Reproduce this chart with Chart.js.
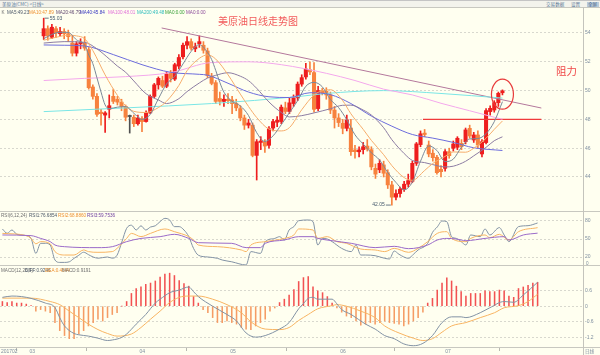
<!DOCTYPE html>
<html><head><meta charset="utf-8">
<script src="https://cdn.jsdelivr.net/npm/chart.js@4.4.1/dist/chart.umd.min.js"></script>
<style>
html,body{margin:0;padding:0}
body{width:600px;height:355px;background:#fffff0;position:relative;overflow:hidden;font-family:"Liberation Sans",Arial,sans-serif}
canvas{position:absolute;left:0}
.t{position:absolute;white-space:nowrap;font-size:4.6px;line-height:5px}
.hl{position:absolute;left:0;width:600px;height:1px;background:#c8c8c0}
.cjk{font-family:"Noto Sans CJK SC",sans-serif}
</style></head><body>
<div style="position:absolute;left:0;top:0;width:600px;height:8px;background:#f3f3ec;border-top:1.5px solid #c4c4c4;box-sizing:border-box"></div>
<div class="t cjk" style="left:2px;top:2px;color:#5a7898">美原油(CMC) &lt;日线&gt;</div>
<div class="t cjk" style="left:546px;top:2px;color:#5a7898">交易数据</div>
<div class="t cjk" style="left:571px;top:2px;color:#5a7898">设置</div>
<div style="position:absolute;left:587px;top:1.5px;width:12px;height:5px;background:#b9cada"></div>
<div class="t cjk" style="left:588px;top:2px;color:#4a6888">全屏</div>

<canvas id="cp" width="600" height="204" style="top:8px"></canvas>
<canvas id="cr" width="600" height="54" style="top:212px"></canvas>
<canvas id="cm" width="600" height="89" style="top:266px"></canvas>

<div class="hl" style="top:7px"></div>
<div class="hl" style="top:211px"></div>
<div class="hl" style="top:265px"></div>
<div class="hl" style="top:347px"></div>
<div style="position:absolute;left:583px;top:7px;width:1px;height:348px;background:#c4c4bc"></div>

<div class="t" style="left:1.5px;top:9.5px;color:#707070">K</div>
<div class="t" style="left:7px;top:9.5px;color:#4c5868">MA5:49.23</div>
<div class="t" style="left:29px;top:9.5px;color:#ee9030">MA10:47.89</div>
<div class="t" style="left:56px;top:9.5px;color:#604870">MA20:46.79</div>
<div class="t" style="left:80px;top:9.5px;color:#3434c0">MA40:45.84</div>
<div class="t" style="left:108px;top:9.5px;color:#e070d8">MA100:48.01</div>
<div class="t" style="left:137px;top:9.5px;color:#2cbcbc">MA200:49.48</div>
<div class="t" style="left:165px;top:9.5px;color:#38a038">MA0:0.00</div>
<div class="t" style="left:186px;top:9.5px;color:#8a4a9a">MA0:0.00</div>

<div class="t cjk" style="left:218px;top:15px;font-size:10px;line-height:12px;color:#f25c5c">美原油日线走势图</div>
<div class="t cjk" style="left:556px;top:65px;font-size:10.5px;line-height:12px;color:#f04848">阻力</div>

<div class="t" style="left:1px;top:213px;color:#707070">RSI(6,12,24)</div>
<div class="t" style="left:29px;top:213px;color:#4c5868">RSI1:76.6854</div>
<div class="t" style="left:58px;top:213px;color:#ee9030">RSI2:68.8860</div>
<div class="t" style="left:87px;top:213px;color:#7040a0">RSI3:59.7536</div>

<div class="t" style="left:1px;top:267.5px;color:#707070">MACD(12,26,9)</div>
<div class="t" style="left:25px;top:267.5px;color:#4c5868">DIFF:0.9246</div>
<div class="t" style="left:45px;top:267.5px;color:#ee9030">DEA:0.4644</div>
<div class="t" style="left:62px;top:267.5px;color:#707070">MACD:0.9191</div>

<div class="t" style="left:586px;top:261px;color:#7f8fa0">0</div>
<div class="t cjk" style="left:585px;top:349px;color:#7f8fa0">日线</div>

<script>
// ---- categories / tick labels ----
const tickIdx = [0, 6, 29, 48, 71, 93];
const tickLabels = ['201702', '03', '04', '05', '06', '07'];
const priceTicks = [44, 46, 48, 50, 52, 54];
const rsiTicks = [20, 50, 80];
const macdTicks = [-1.2, -0.6, 0, 0.6];

// ---- daily candles (index 0 = first bar) ----
const open = [
53.80,54.30,53.70,54.30,53.95,54.10,53.95,53.30,52.60,53.25,
53.30,52.85,50.25,49.60,48.50,48.30,48.70,49.60,49.40,49.20,
48.90,48.20,48.15,47.70,48.05,47.85,48.45,49.60,50.40,50.70,
50.30,51.20,50.80,51.70,52.35,53.15,53.40,52.90,53.25,53.15,
52.75,51.00,50.55,49.45,49.25,49.40,49.35,49.10,48.75,48.10,
47.60,47.60,45.50,46.40,46.45,46.20,47.40,47.80,47.85,48.80,
48.55,49.10,49.50,50.45,50.95,51.45,51.25,48.75,50.00,49.95,
49.70,48.65,48.10,47.73,47.38,47.40,45.88,45.75,45.90,46.15,
45.90,44.60,44.50,44.84,44.30,43.45,42.60,42.85,43.15,43.50,
43.70,44.95,46.25,47.05,46.22,45.65,45.37,44.53,44.60,45.76,
45.99,46.06,46.34,46.45,47.38,46.57,46.92,45.60,46.39,48.54,
48.65,49.16,49.85];
const high = [
55.03,54.50,54.60,54.45,54.40,54.30,54.20,53.80,53.40,53.60,
53.75,53.00,50.40,49.80,48.70,48.55,49.70,50.10,49.60,49.40,
49.00,48.30,48.30,48.30,48.20,48.60,49.70,50.50,50.95,51.00,
51.30,51.40,51.90,52.50,53.30,53.75,53.60,53.30,53.80,53.40,
52.95,51.20,50.70,49.90,49.70,49.80,49.60,49.40,48.95,48.30,
48.00,47.75,46.60,46.80,46.60,47.50,48.00,48.20,49.00,49.20,
49.50,49.70,50.60,51.10,51.90,52.00,51.95,50.30,50.15,50.20,
49.90,48.90,48.40,48.00,48.30,48.00,46.20,46.10,46.40,46.60,
46.10,44.90,45.20,45.10,44.50,43.70,43.10,43.30,43.70,44.20,
45.10,46.40,47.20,47.30,46.50,45.90,45.50,44.80,45.90,46.00,
46.50,46.80,46.60,47.40,47.60,47.10,47.20,46.60,48.75,48.95,
49.30,49.90,50.05];
const low = [
53.55,53.50,53.60,53.70,53.80,53.60,53.40,52.40,52.40,52.90,
52.80,50.10,49.40,48.20,47.60,47.10,48.10,49.10,49.00,48.60,
47.90,47.05,47.50,47.60,47.15,47.80,48.40,49.50,50.10,50.20,
50.20,50.60,50.70,51.50,52.20,52.90,52.80,52.70,53.00,52.60,
50.90,50.40,49.10,49.00,48.90,49.10,48.40,48.60,47.90,47.30,
47.40,45.40,43.79,45.90,45.70,46.00,47.20,47.50,47.70,48.40,
48.40,48.90,49.30,50.30,50.80,51.10,48.50,48.60,49.70,49.40,
48.40,47.40,47.50,47.00,47.20,45.50,45.30,45.40,45.60,45.80,
44.50,43.90,44.30,44.00,43.20,42.05,42.40,42.60,43.00,43.30,
43.60,44.80,46.10,46.80,45.40,45.10,44.20,44.00,44.40,45.30,
45.80,45.90,45.90,46.30,46.70,46.40,46.00,45.40,46.30,48.30,
48.50,48.90,49.70];
const close = [
54.30,53.80,54.40,54.00,54.10,53.95,53.75,52.60,53.25,53.35,
52.95,50.20,49.60,48.35,48.40,48.45,48.95,49.25,49.20,48.90,
48.15,48.20,47.70,48.10,47.85,48.45,49.60,50.40,50.85,50.30,
51.15,50.85,51.80,52.30,53.15,53.40,52.95,53.05,53.40,52.80,
51.05,50.50,49.25,49.25,49.40,49.30,49.10,48.80,48.10,47.60,
47.75,45.50,46.45,46.50,46.15,47.35,47.85,47.95,48.85,48.55,
49.15,49.50,50.45,50.90,51.50,51.30,48.70,50.00,49.85,49.70,
48.65,48.10,47.78,47.38,47.96,45.76,45.76,45.88,46.10,45.95,
44.70,44.20,44.95,44.26,43.45,42.60,42.85,43.15,43.50,43.75,
44.95,46.30,47.00,46.95,45.60,45.34,44.30,44.37,45.76,45.48,
46.29,46.69,46.11,47.27,46.85,46.92,46.22,46.45,48.61,48.77,
49.16,49.81,49.98];

// ---- moving averages: [bar index, value] ----
const ma5 = [[0,53.6],[2,53.9],[4,54.05],[6,54.04],[8,53.53],[10,53.18],[11,52.47],[12,51.87],[13,50.89],[14,49.9],[15,49.0],[16,48.75],[18,48.85],[20,48.89],[22,48.43],[24,48.0],[26,48.34],[28,49.43],[30,50.46],[32,50.99],[34,51.85],[36,52.72],[38,53.19],[40,52.65],[41,52.16],[42,51.4],[43,50.57],[44,49.89],[46,49.26],[48,48.94],[50,48.27],[52,47.08],[54,46.47],[56,46.86],[58,47.63],[60,48.47],[62,49.3],[64,50.3],[66,50.57],[68,50.27],[70,49.38],[72,48.82],[74,47.97],[76,46.93],[78,46.29],[80,45.68],[82,45.18],[84,44.31],[86,43.62],[88,43.11],[90,43.64],[92,45.1],[94,46.16],[96,45.84],[98,45.07],[100,45.24],[102,46.07],[104,46.64],[106,46.67],[108,47.01],[110,47.84],[112,49.23]];
const ma10 = [[0,53.5],[3,53.7],[6,53.85],[8,53.8],[10,53.6],[12,52.78],[15,51.09],[18,49.67],[20,48.95],[22,48.56],[25,48.48],[28,48.82],[30,49.26],[33,50.36],[35,51.38],[38,52.24],[40,52.48],[42,52.19],[45,51.1],[48,49.76],[50,48.9],[52,48.13],[55,47.33],[58,47.2],[60,47.43],[63,48.67],[66,49.69],[68,49.99],[70,50.06],[73,49.3],[75,48.39],[78,47.31],[80,46.54],[83,45.55],[85,44.79],[88,43.96],[90,43.77],[93,44.45],[95,44.94],[98,45.43],[100,45.74],[103,45.72],[105,46.0],[108,46.69],[110,47.31],[112,47.89]];
const ma20 = [[0,53.3],[5,53.4],[10,53.35],[13,52.9],[16,52.2],[18,51.7],[20,51.28],[22,50.67],[25,49.78],[28,49.35],[30,49.1],[33,49.44],[35,49.93],[38,50.53],[40,50.87],[42,51.06],[45,51.24],[48,51.0],[50,50.69],[52,50.16],[55,49.21],[58,48.48],[60,48.17],[63,48.26],[66,48.45],[68,48.59],[70,48.74],[73,48.98],[75,48.99],[78,48.65],[80,48.3],[83,47.42],[85,46.59],[88,45.63],[90,45.15],[93,45.0],[95,44.86],[98,44.7],[100,44.75],[103,45.09],[105,45.47],[108,46.06],[110,46.52],[112,46.79]];
const ma40 = [[0,53.17],[5,53.15],[10,53.1],[17,52.5],[24,51.8],[31,51.27],[38,51.13],[40,51.07],[45,50.51],[50,49.9],[55,49.57],[60,49.52],[65,49.85],[70,49.72],[75,49.1],[80,48.23],[85,47.53],[90,46.95],[95,46.7],[100,46.4],[105,46.03],[112,45.84]];
const ma100 = [[0,50.7],[10,50.85],[20,50.97],[31,51.25],[41,51.95],[50,52.0],[58,51.8],[69,51.2],[76,50.7],[83,50.1],[90,49.7],[97,49.12],[104,48.6],[110,48.15],[112,48.01]];
const ma200 = [[0,48.54],[20,48.8],[41,49.1],[62,49.58],[69,49.8],[83,50.0],[97,49.8],[112,49.48]];

// ---- drawn annotations (data space) ----
const trendLine = [[28.8, 54.35], [121.5, 48.79]];
const resistance = [[92.6, 48.0], [121.5, 48.0]];
const circleAt = [112, 49.75];

// ---- RSI ----
const rsi1 = [[0,66.7],[1,59.5],[2,65],[3,58],[5,55.6],[6,51],[7,26],[8,42.8],[9,42.8],[10,40],[11,15],[12,11],[13,11],[14,12],[15,17.8],[16,23],[17,28],[18,24],[19,20],[20,18],[21,19],[22,20],[23,18],[24,23],[25,45],[26,67.8],[27,73],[28,65],[29,72],[30,65],[31,70],[32,72],[33,79],[34,84.4],[35,81.7],[36,70.6],[37,70.6],[38,65],[39,54],[40,34.4],[41,23],[43,20],[45,17.8],[46,15],[48,12],[51,6.7],[52,29],[54,26],[55,45.6],[57,51],[58,53.9],[59,48.3],[60,65],[61,70.6],[62,80.5],[64,81.7],[65,78.9],[66,40],[67,51],[68,50],[69,45.6],[71,34.4],[73,29],[74,40],[75,23.3],[76,23.3],[78,22.2],[80,17.8],[81,16.7],[82,30],[83,24.5],[85,17.8],[86,24.5],[87,31.7],[89,42.8],[90,61],[91,70],[92,80],[93,78.9],[94,53.9],[95,51],[96,45.6],[97,40],[98,56.7],[100,53.9],[101,66.7],[102,56.7],[104,69],[105,56.7],[106,45.6],[108,70.6],[110,72.2],[112,76.7]];
const rsi2 = [[0,59.4],[5,55.6],[6,51],[7,42],[8,45.6],[10,42],[11,29],[13,23.3],[15,23.3],[17,31.7],[18,29],[20,27.8],[23,29],[24,34.4],[26,51],[27,59.4],[29,54],[31,59.4],[34,66.7],[36,62.2],[39,54],[40,48.3],[41,40],[45,37.2],[50,31.7],[51,29],[52,40],[55,45.6],[59,51],[61,56.7],[62,66.7],[65,65],[66,51],[68,53.9],[70,45.6],[72,42.8],[75,33.3],[78,31.7],[80,29],[82,34.4],[85,27.8],[87,34.4],[89,45.6],[91,59.4],[93,62.2],[94,51],[97,45.6],[98,51],[101,56.7],[102,52.2],[104,57.8],[106,48.3],[108,62.2],[112,68.9]];
const rsi3 = [[0,56.7],[6,55.6],[8,51],[10,45.6],[11,40],[13,37.2],[20,35.6],[23,37.2],[26,45.6],[29,51],[33,53.9],[36,57.8],[39,51],[41,43.9],[48,42.8],[51,35.6],[54,35.6],[55,42.8],[59,48.3],[62,53.9],[65,53.9],[66,51],[69,47.2],[73,42.8],[78,35.6],[82,37.8],[85,33.9],[89,40],[91,48.3],[93,51],[95,50],[97,47.2],[101,51],[105,53.9],[106,48.3],[109,56.7],[112,59.75]];

// ---- MACD ----
const diff = [[0,0.34],[2,0.39],[4,0.37],[6,0.3],[9,0.12],[11,-0.05],[12,-0.44],[13,-0.76],[15,-1.05],[16,-1.1],[18,-1.15],[20,-1.23],[22,-1.32],[23,-1.3],[25,-1.2],[26,-1.07],[28,-0.69],[30,-0.32],[32,0.12],[34,0.4],[35,0.52],[37,0.62],[39,0.74],[40,0.56],[41,0.37],[44,0],[47,-0.32],[49,-0.57],[51,-1.03],[53,-1.19],[55,-1.13],[58,-0.88],[60,-0.63],[62,-0.1],[63,0.1],[64,0.3],[65,0.34],[66,0.27],[69,0.27],[70,0.09],[71,-0.13],[73,-0.32],[76,-0.69],[78,-0.88],[80,-1.13],[82,-1.25],[84,-1.45],[86,-1.52],[88,-1.43],[90,-1.13],[92,-0.63],[94,-0.41],[96,-0.41],[97,-0.44],[100,-0.25],[102,-0.06],[105,0.18],[107,0.15],[109,0.43],[112,0.92]];
const dea = [[0,0.31],[6,0.31],[10,0.18],[12,0.06],[14,-0.19],[16,-0.44],[18,-0.69],[20,-0.9],[22,-1.05],[24,-1.15],[27,-1.07],[29,-0.82],[31,-0.5],[33,-0.19],[35,0.14],[37,0.34],[39,0.39],[41,0.39],[44,0.27],[47,0.06],[50,-0.25],[52,-0.6],[55,-0.88],[58,-0.9],[60,-0.82],[62,-0.55],[64,-0.32],[66,-0.1],[69,0.02],[70,0.06],[72,0],[75,-0.19],[78,-0.44],[80,-0.76],[83,-1.03],[86,-1.23],[88,-1.32],[90,-1.25],[92,-1.0],[94,-0.76],[97,-0.63],[100,-0.44],[103,-0.25],[105,-0.06],[108,0.02],[110,0.18],[112,0.46]];
const macdHist = [
0.18,0.14,0.18,0.12,0.12,0.08,0.02,-0.19,-0.13,-0.19,
-0.25,-0.63,-0.94,-1.13,-1.25,-1.25,-1.07,-0.94,-0.76,-0.63,
-0.5,-0.57,-0.44,-0.32,-0.25,0.0,0.18,0.49,0.68,0.74,
0.84,0.89,0.97,1.12,1.24,1.27,1.18,0.99,0.87,0.77,
0.37,0.12,-0.13,-0.25,-0.44,-0.63,-0.63,-0.57,-0.63,-0.69,
-0.82,-0.88,-0.9,-0.76,-0.63,-0.5,-0.19,-0.07,0.14,0.27,
0.43,0.64,0.95,1.1,1.14,0.74,0.59,0.52,0.37,0.12,
-0.07,-0.23,-0.38,-0.44,-0.57,-0.73,-0.69,-0.63,-0.69,-0.63,
-0.57,-0.63,-0.66,-0.69,-0.76,-0.69,-0.57,-0.44,-0.23,0.12,
0.3,0.62,0.89,1.09,0.97,0.77,0.56,0.39,0.49,0.49,
0.49,0.59,0.56,0.56,0.62,0.59,0.39,0.34,0.68,0.74,
0.8,0.89,0.92];

// ---------------------------------------------------------------
Chart.defaults.font.family = "'Liberation Sans', Arial, sans-serif";
Chart.defaults.animation = false;
const UP = '#ee1e1e', DOWN = '#f7823e', FLAT = '#505050';
const AXIS_TXT = '#7f8fa0', GRID = '#d8d8ce';
const X_MIN = -0.5, X_MAX = 121.5;

const candleColor = i => close[i] > open[i] ? UP : (close[i] < open[i] ? DOWN : FLAT);
const pts = arr => arr.map(([x, y]) => ({x, y}));
const line = (data, color, w) => ({type: 'line', data: pts(data), borderColor: color, borderWidth: w || 1,
  pointRadius: 0, cubicInterpolationMode: 'monotone', order: 0});

function yAxis(min, max, ticks, fmt) {
  return {
    position: 'right', min, max,
    afterBuildTicks: s => { s.ticks = ticks.map(v => ({value: v})); },
    afterFit: s => { s.width = 17; s.paddingTop = 0; s.paddingBottom = 0; },
    ticks: {font: {size: 5}, color: AXIS_TXT, padding: 2, autoSkip: false, callback: fmt || (v => String(v))},
    grid: {color: GRID, drawTicks: false, lineWidth: 1},
    border: {display: false, dash: [2, 2]}
  };
}
const hiddenX = {type: 'linear', min: X_MIN, max: X_MAX, display: false};
const baseOpts = {responsive: false, devicePixelRatio: 1, maintainAspectRatio: false, events: [],
  layout: {padding: 0}, plugins: {legend: {display: false}, tooltip: {enabled: false}}};

const annot = {
  id: 'annot',
  afterDatasetsDraw(chart) {
    const {ctx, scales: {x, y}} = chart;
    ctx.save();
    ctx.font = "5px 'Liberation Sans', Arial";
    ctx.fillStyle = '#44586c'; ctx.strokeStyle = '#44586c'; ctx.lineWidth = 0.8;
    ctx.textBaseline = 'middle';
    const hv = Math.max(...high), hi = high.indexOf(hv);
    const hx = x.getPixelForValue(hi), hy = y.getPixelForValue(hv);
    ctx.beginPath(); ctx.moveTo(hx + 1, hy); ctx.lineTo(hx + 5, hy); ctx.stroke();
    ctx.textAlign = 'left'; ctx.fillText(hv.toFixed(2), hx + 6, hy);
    const lv = Math.min(...low), li = low.indexOf(lv);
    const lx = x.getPixelForValue(li), ly = y.getPixelForValue(lv);
    ctx.beginPath(); ctx.moveTo(lx - 1, ly); ctx.lineTo(lx - 6, ly); ctx.stroke();
    ctx.textAlign = 'right'; ctx.fillText(lv.toFixed(2), lx - 7, ly);
    ctx.strokeStyle = '#e83a3a'; ctx.lineWidth = 1.2;
    ctx.beginPath();
    ctx.ellipse(x.getPixelForValue(circleAt[0]), y.getPixelForValue(circleAt[1]), 11, 15, 0, 0, Math.PI * 2);
    ctx.stroke();
    ctx.restore();
  }
};

// price panel
new Chart(document.getElementById('cp'), {
  type: 'bar',
  data: {datasets: [
    line(ma5, '#7a8898'), line(ma10, '#f6ad6c'), line(ma20, '#8c7ca2'), line(ma40, '#6c6cdc'),
    line(ma100, '#f4a8ec'), line(ma200, '#7ae6e6'),
    {type: 'line', data: pts(trendLine), borderColor: '#b4789c', borderWidth: 1, pointRadius: 0, order: 0},
    {type: 'line', data: pts(resistance), borderColor: '#f03a3a', borderWidth: 1.4, pointRadius: 0, order: 0},
    {type: 'bar', data: open.map((o, i) => ({x: i, y: [low[i], high[i]]})),
      backgroundColor: open.map((o, i) => candleColor(i)), barThickness: 1, grouped: false, order: 2},
    {type: 'bar', data: open.map((o, i) => ({x: i, y: [o, close[i]]})),
      backgroundColor: open.map((o, i) => candleColor(i)), barThickness: 3.4, minBarLength: 1, grouped: false, order: 1}
  ]},
  options: Object.assign({}, baseOpts, {
    scales: {x: hiddenX, y: yAxis(41.569, 55.736, priceTicks)}
  }),
  plugins: [annot]
});

// RSI panel
new Chart(document.getElementById('cr'), {
  type: 'line',
  data: {datasets: [line(rsi3, '#9a6ac8'), line(rsi2, '#f8b462'), line(rsi1, '#8292a4')]},
  options: Object.assign({}, baseOpts, {
    scales: {x: hiddenX, y: yAxis(5, 95, rsiTicks)}
  })
});

// MACD panel
new Chart(document.getElementById('cm'), {
  type: 'bar',
  data: {datasets: [
    line(diff, '#8292a4'), line(dea, '#f8b462'),
    {type: 'bar', data: macdHist.map((v, i) => ({x: i, y: v})),
      backgroundColor: macdHist.map(v => v >= 0 ? '#f25252' : '#f59c64'), barThickness: 0.9, grouped: false, order: 1}
  ]},
  options: Object.assign({}, baseOpts, {
    scales: {
      x: {type: 'linear', min: X_MIN, max: X_MAX, position: 'bottom', offset: false,
        afterBuildTicks: s => { s.ticks = tickIdx.map(v => ({value: v})); },
        afterFit: s => { s.height = 7; s.paddingLeft = 0; s.paddingRight = 0; },
        ticks: {font: {size: 5}, color: AXIS_TXT, padding: -2, align: 'start', labelOffset: -1.5,
          maxRotation: 0, autoSkip: false, callback: (v, i) => tickLabels[i]},
        grid: {drawOnChartArea: false, drawTicks: true, tickLength: 3, color: '#b8b8b0'},
        border: {display: false}},
      y: yAxis(-1.608, 1.546, macdTicks)
    }
  })
});
</script>
</body></html>
